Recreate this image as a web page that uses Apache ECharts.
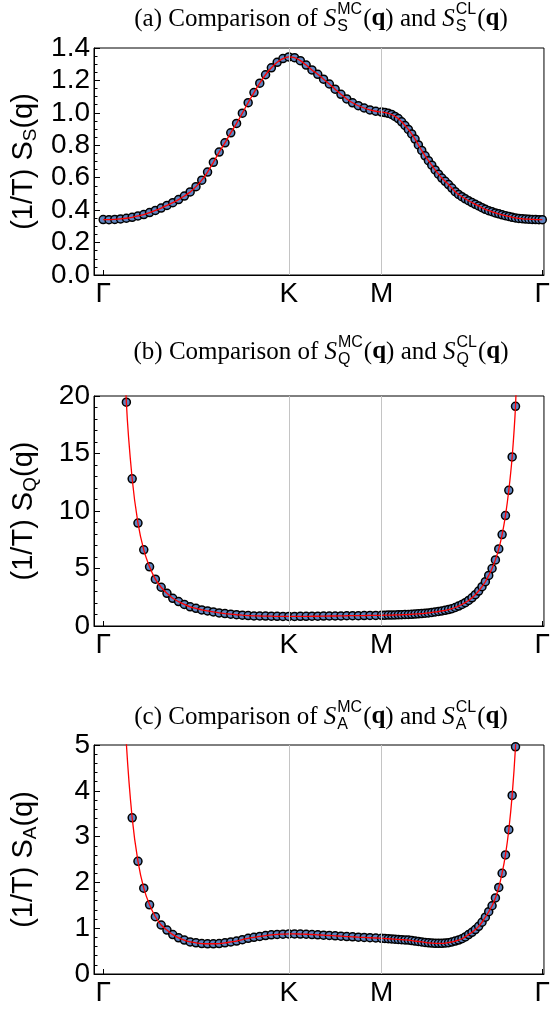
<!DOCTYPE html>
<html><head><meta charset="utf-8">
<script src="https://cdn.jsdelivr.net/npm/echarts@6/dist/echarts.min.js"></script>
<style>html,body{margin:0;padding:0;background:#fff}#c{width:553px;height:1010px}</style>
</head><body><div id="c"></div>
<script>
// High-symmetry path labels
const qLabels = ['Γ', 'K', 'M', 'Γ'];
// number of k-steps along each segment (Γ-K, K-M, M-Γ)
const nGK = 32, nKM = 16, nMG = 48;
const lenGK = 1, lenKM = 0.5, lenMG = Math.sqrt(3) / 2;

// (a) S_S : Γ->K (n=0..32), K->M (m=1..16), M->Γ (k=1..48)
const sS_GK = [0.342,0.341,0.343,0.346,0.350,0.356,0.364,0.373,0.385,0.398,0.413,0.429,0.446,0.465,0.487,0.512,0.545,0.585,0.635,0.695,0.758,0.815,0.877,0.935,0.998,1.063,1.125,1.183,1.235,1.278,1.312,1.335,1.345];
const sS_KM = [1.340,1.322,1.295,1.265,1.238,1.208,1.178,1.146,1.114,1.086,1.062,1.044,1.030,1.018,1.010,1.005];
const sS_MG = [1.002,0.997,0.990,0.978,0.965,0.945,0.922,0.898,0.870,0.838,0.802,0.768,0.735,0.705,0.677,0.648,0.622,0.598,0.578,0.558,0.536,0.514,0.497,0.483,0.470,0.458,0.447,0.436,0.426,0.415,0.405,0.397,0.390,0.383,0.377,0.371,0.366,0.361,0.356,0.352,0.349,0.347,0.345,0.344,0.343,0.342,0.341,0.341];

// (b) S_Q
const sQ_GK = [null,null,null,34,19.46,12.8,8.95,6.62,5.15,4.07,3.37,2.84,2.41,2.12,1.88,1.67,1.54,1.40,1.31,1.22,1.14,1.08,1.03,0.98,0.94,0.91,0.88,0.87,0.86,0.85,0.84,0.83,0.83];
const sQ_KM = [0.83,0.84,0.84,0.85,0.85,0.86,0.87,0.87,0.88,0.89,0.90,0.90,0.91,0.92,0.92,0.93];
const sQ_MG = [0.94,0.95,0.95,0.96,0.97,0.98,0.99,1.00,1.02,1.04,1.06,1.08,1.11,1.14,1.18,1.22,1.26,1.31,1.36,1.43,1.51,1.61,1.73,1.87,2.03,2.22,2.45,2.72,3.04,3.42,3.85,4.40,5.00,5.75,6.70,7.95,9.60,11.8,14.7,19.1,27,null,null,null,null,null,null,null];

// (c) S_A
const sA_GK = [null,null,null,7.6,5.03,3.41,2.46,1.875,1.51,1.25,1.07,0.96,0.86,0.79,0.74,0.70,0.68,0.665,0.66,0.66,0.665,0.68,0.70,0.72,0.75,0.78,0.80,0.82,0.84,0.855,0.865,0.87,0.875];
const sA_KM = [0.875,0.872,0.868,0.862,0.855,0.848,0.841,0.834,0.826,0.818,0.811,0.804,0.798,0.792,0.786,0.78];
const sA_MG = [0.775,0.77,0.765,0.76,0.755,0.75,0.745,0.74,0.73,0.72,0.71,0.70,0.69,0.68,0.675,0.67,0.67,0.67,0.675,0.685,0.70,0.72,0.74,0.77,0.81,0.86,0.91,0.97,1.04,1.13,1.24,1.36,1.49,1.66,1.89,2.2,2.6,3.15,3.9,4.96,6.5,null,null,null,null,null,null,null];

// y-axis tick settings
const yTicksA = {min: 0, max: 1.4, interval: 0.2, minor: 4, dec: 1};
const yTicksB = {min: 0, max: 20, interval: 5, minor: 5, dec: 0};
const yTicksC = {min: 0, max: 5, interval: 1, minor: 5, dec: 0};

// path coordinate of each k-point
const qTicks = [0, lenGK, lenGK + lenKM, lenGK + lenKM + lenMG];
const qx = [];
for (let n = 0; n <= nGK; n++) qx.push(n / nGK * lenGK);
for (let m = 1; m <= nKM; m++) qx.push(lenGK + m / nKM * lenKM);
for (let k = 1; k <= nMG; k++) qx.push(lenGK + lenKM + k / nMG * lenMG);

function pairs(gk, km, mg) {
  return gk.concat(km, mg).map((y, i) => [qx[i], y == null ? '-' : y]);
}

const BLUE = '#5f84c0';
const SANS = 'Liberation Sans';
const SERIF = 'Liberation Serif';

const grids = [
  {left: 94, top: 48, width: 456, height: 227},
  {left: 94, top: 396, width: 456, height: 230},
  {left: 91.5, top: 745, width: 456, height: 229}
];
const panels = [
  {data: pairs(sS_GK, sS_KM, sS_MG), y: yTicksA, sub: 'S', letter: 'a', ty: 19},
  {data: pairs(sQ_GK, sQ_KM, sQ_MG), y: yTicksB, sub: 'Q', letter: 'b', ty: 352},
  {data: pairs(sA_GK, sA_KM, sA_MG), y: yTicksC, sub: 'A', letter: 'c', ty: 717}
];

const xAxes = [], yAxes = [], series = [], graphics = [];
panels.forEach((p, i) => {
  xAxes.push({
    gridIndex: i, type: 'value', min: -0.0494, max: 2.375,
    axisLine: {show: true, onZero: false, lineStyle: {color: '#000', width: 1}},
    axisTick: {show: true, inside: true, length: 5, customValues: qTicks, lineStyle: {color: '#000'}},
    axisLabel: {show: true, customValues: qTicks, margin: 5, fontSize: 28, fontFamily: SANS, color: '#000',
      formatter: v => { let b = 0; qTicks.forEach((t, j) => { if (Math.abs(t - v) < Math.abs(qTicks[b] - v)) b = j; }); return qLabels[b]; }},
    splitLine: {show: false}
  });
  yAxes.push({
    gridIndex: i, type: 'value', min: p.y.min, max: p.y.max, interval: p.y.interval,
    axisLine: {show: true, onZero: false, lineStyle: {color: '#000', width: 1}},
    axisTick: {show: true, inside: true, length: 6, lineStyle: {color: '#000'}},
    minorTick: {show: true, splitNumber: p.y.minor, length: 3.5, lineStyle: {color: '#000'}},
    axisLabel: {fontSize: 28, fontFamily: SANS, color: '#000', margin: 4,
      formatter: v => v.toFixed(p.y.dec)},
    splitLine: {show: false},
    name: '(1/T) S{s|' + p.sub + '}(q)', nameLocation: 'middle', nameRotate: 90, nameGap: 54,
    nameTextStyle: {fontSize: 29, fontFamily: SANS, color: '#000', lineHeight: 32,
      rich: {s: {fontSize: 19, fontFamily: SANS, color: '#000', verticalAlign: 'bottom', lineHeight: 19}}}
  });
  // vertical guide lines at K and M
  series.push({
    type: 'line', xAxisIndex: i, yAxisIndex: i, data: [], z: 1, silent: true,
    markLine: {silent: true, symbol: 'none', label: {show: false}, animation: false,
      lineStyle: {color: '#c4c4c4', width: 1, type: 'solid'},
      data: [{xAxis: qTicks[1]}, {xAxis: qTicks[2]}]}
  });
  // Monte Carlo points
  series.push({
    type: 'scatter', xAxisIndex: i, yAxisIndex: i, data: p.data, z: 3,
    symbol: 'circle', symbolSize: 8, clip: true,
    itemStyle: {color: BLUE, borderColor: '#000', borderWidth: 1.5, opacity: 1}
  });
  // classical (CL) curve
  series.push({
    type: 'line', xAxisIndex: i, yAxisIndex: i, data: p.data, z: 4,
    showSymbol: false, smooth: 0.3, clip: true, connectNulls: false,
    lineStyle: {color: '#ff0000', width: 1.3}
  });
});

// title with math-like formatting
const cv = document.createElement('canvas').getContext('2d');
function tw(t, f) { cv.font = f; return cv.measureText(t).width; }
function buildTitle(letter, sub, cx, cy) {
  const fs = 25, ss = 16;
  const rf = fs + "px '" + SERIF + "'";
  const itf = 'italic ' + rf, bf = 'bold ' + rf;
  const sf = ss + "px '" + SANS + "'";
  const pieces = [
    {t: '(' + letter + ') Comparison of ', f: rf},
    {t: 'S', f: itf, extra: 1},
    {sup: 'MC', sub: sub},
    {t: '(', f: rf}, {t: 'q', f: bf}, {t: ')', f: rf},
    {t: ' and ', f: rf},
    {t: 'S', f: itf, extra: 1},
    {sup: 'CL', sub: sub},
    {t: '(', f: rf}, {t: 'q', f: bf}, {t: ')', f: rf}
  ];
  let total = 0;
  pieces.forEach(p => {
    if (p.sup) p.w = Math.max(tw(p.sup, sf), tw(p.sub, sf)) + 1;
    else p.w = tw(p.t, p.f) + (p.extra || 0);
    total += p.w;
  });
  let x = cx - total / 2;
  const els = [];
  const mk = (t, f, xx, yy) => ({type: 'text', silent: true, z: 10,
    style: {text: t, x: xx, y: yy, font: f, fill: '#000', align: 'left', textAlign: 'left', verticalAlign: 'middle', textVerticalAlign: 'middle'}});
  pieces.forEach(p => {
    if (p.sup) {
      els.push(mk(p.sup, sf, x, cy - 9));
      els.push(mk(p.sub, sf, x, cy + 8));
    } else {
      els.push(mk(p.t, p.f, x, cy));
    }
    x += p.w;
  });
  return els;
}
panels.forEach(p => { buildTitle(p.letter, p.sub, 321, p.ty).forEach(e => graphics.push(e)); });

const chart = echarts.init(document.getElementById('c'), null, {renderer: 'canvas'});
chart.setOption({
  animation: false,
  backgroundColor: '#fff',
  grid: grids.map(g => Object.assign({show: true, borderColor: '#000', borderWidth: 1, backgroundColor: 'transparent', containLabel: false}, g)),
  xAxis: xAxes,
  yAxis: yAxes,
  series: series,
  graphic: graphics
});
</script></body></html>
